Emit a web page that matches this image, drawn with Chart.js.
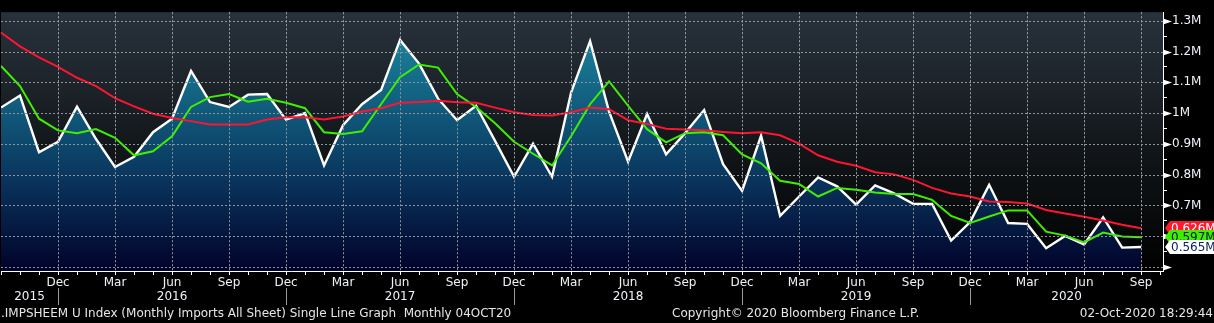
<!DOCTYPE html>
<html>
<head>
<meta charset="utf-8">
<script src="https://cdn.jsdelivr.net/npm/chart.js@4.4.0/dist/chart.umd.min.js"></script>
<style>
  html, body { margin: 0; padding: 0; background: #000; }
  #wrap { width: 1214px; height: 323px; }
</style>
</head>
<body>
<div id="wrap"><canvas id="imports" width="1214" height="323"></canvas></div>
<script>
const monthNames = ['Jan', 'Feb', 'Mar', 'Apr', 'May', 'Jun', 'Jul', 'Aug', 'Sep', 'Oct', 'Nov', 'Dec'];
const yearLabels = ['2015', '2016', '2017', '2018', '2019', '2020'];
const firstMonth = 8; // series starts Sep 2015

// monthly imports, millions (Sep 2015 .. Sep 2020)
const monthlyImports = [
  1.018, 1.057, 0.873, 0.907, 1.021, 0.916, 0.825, 0.858, 0.938, 0.982,
  1.137, 1.036, 1.020, 1.060, 1.062, 0.979, 1.000, 0.830, 0.961, 1.029,
  1.075, 1.238, 1.161, 1.047, 0.977, 1.024, 0.910, 0.793, 0.901, 0.793,
  1.067, 1.234, 1.005, 0.842, 0.997, 0.866, 0.935, 1.010, 0.834, 0.747,
  0.927, 0.666, 0.729, 0.791, 0.762, 0.703, 0.765, 0.739, 0.705, 0.705,
  0.586, 0.646, 0.767, 0.643, 0.640, 0.561, 0.601, 0.573, 0.661, 0.563,
  0.565
];
// 3 month average
const avg3m = [
  1.153, 1.088, 0.982, 0.944, 0.935, 0.948, 0.920, 0.863, 0.876, 0.925,
  1.020, 1.052, 1.062, 1.037, 1.047, 1.034, 1.016, 0.938, 0.932, 0.941,
  1.029, 1.117, 1.158, 1.148, 1.062, 1.020, 0.967, 0.907, 0.868, 0.830,
  0.925, 1.029, 1.103, 1.024, 0.948, 0.905, 0.935, 0.938, 0.928, 0.866,
  0.837, 0.780, 0.770, 0.729, 0.757, 0.751, 0.742, 0.737, 0.737, 0.718,
  0.666, 0.643, 0.664, 0.684, 0.684, 0.615, 0.602, 0.580, 0.612, 0.599,
  0.597
];
// 12 month average
const avg12m = [
  1.262, 1.217, 1.181, 1.150, 1.115, 1.088, 1.049, 1.022, 0.998, 0.984,
  0.974, 0.963, 0.963, 0.963, 0.979, 0.987, 0.987, 0.979, 0.989, 1.005,
  1.016, 1.034, 1.036, 1.040, 1.035, 1.034, 1.018, 1.003, 0.994, 0.992,
  1.003, 1.018, 1.013, 0.977, 0.965, 0.949, 0.947, 0.944, 0.939, 0.935,
  0.938, 0.928, 0.901, 0.863, 0.842, 0.829, 0.808, 0.801, 0.783, 0.757,
  0.739, 0.729, 0.713, 0.711, 0.706, 0.685, 0.674, 0.663, 0.651, 0.637,
  0.626
];

const footerLeft = '.IMPSHEEM U Index (Monthly Imports All Sheet) Single Line Graph  Monthly 04OCT20';
const footerMid = 'Copyright\u00a9 2020 Bloomberg Finance L.P.';
const footerRight = '02-Oct-2020 18:29:44';

const FONT = '"DejaVu Sans", sans-serif';
const textColor = '#eef2f8';
const gridGray = '#8e949a';
const clear = 'rgba(0,0,0,0)';

const toPoints = arr => arr.map((y, x) => ({ x, y }));
const isQuarter = i => i > 0 && i % 3 === 0;
const isMajor = v => Math.round(v * 100) % 10 === 0;

// dark panel behind the plot
const plotBackground = {
  id: 'plotBackground',
  beforeDraw(chart) {
    const { ctx, chartArea: a } = chart;
    ctx.save();
    ctx.fillStyle = '#000';
    ctx.fillRect(0, 0, chart.width, chart.height);
    const g = ctx.createLinearGradient(0, a.top, 0, a.bottom);
    g.addColorStop(0, '#28323c');
    g.addColorStop(0.55, '#111518');
    g.addColorStop(1, '#000000');
    ctx.fillStyle = g;
    ctx.fillRect(a.left, a.top, a.right - a.left, a.bottom - a.top);
    ctx.restore();
  }
};

// dotted grid on quarter months and every 0.1M, placed from the scale ticks.
// dots are plain 2x1 rects, 2px on / 2px off
function drawDots(chart) {
  const { ctx, chartArea: a, scales: { x, y } } = chart;
  ctx.save();
  ctx.fillStyle = gridGray;
  x.ticks.filter(t => isQuarter(t.value)).forEach(t => {
    const px = Math.round(x.getPixelForValue(t.value));
    for (let py = a.top; py < a.bottom; py += 4) ctx.fillRect(px, py, 1, 2);
  });
  y.ticks.filter(t => isMajor(t.value)).forEach(t => {
    const py = Math.round(y.getPixelForValue(t.value));
    for (let px = a.left; px < a.right; px += 4) ctx.fillRect(px, py, 2, 1);
  });
  ctx.restore();
}
const dottedGrid = {
  id: 'dottedGrid',
  beforeDatasetsDraw: drawDots,
  afterDatasetsDraw: drawDots
};

// arrows, year row, footer and last value tags
const decorations = {
  id: 'decorations',
  afterDraw(chart) {
    const { ctx, chartArea: a, scales: { x, y } } = chart;
    ctx.save();

    ctx.fillStyle = '#fff';
    y.ticks.filter(t => isMajor(t.value)).forEach(t => {
      const py = Math.round(y.getPixelForValue(t.value)) + 0.5;
      ctx.beginPath();
      ctx.moveTo(a.right, py - 3);
      ctx.lineTo(a.right + 9, py);
      ctx.lineTo(a.right, py + 3);
      ctx.closePath();
      ctx.fill();
    });

    // year boundaries sit on the Dec ticks
    const seps = monthlyImports.map((_, i) => i)
      .filter(i => (firstMonth + i) % 12 === 11)
      .map(i => x.getPixelForValue(i));
    ctx.fillStyle = '#9a9a9a';
    seps.forEach(px => ctx.fillRect(Math.round(px), a.bottom + 17, 1, 17));

    const edges = [a.left, ...seps, a.right];
    ctx.font = `12px ${FONT}`;
    ctx.fillStyle = textColor;
    ctx.textAlign = 'center';
    ctx.textBaseline = 'middle';
    yearLabels.forEach((yr, k) => {
      ctx.fillText(yr, (edges[k] + edges[k + 1]) / 2, a.bottom + 26);
    });

    ctx.fillStyle = '#e6e6e6';
    ctx.textAlign = 'left';
    ctx.fillText(footerLeft, 1, 314);
    ctx.fillText(footerMid, 672, 314);
    ctx.textAlign = 'right';
    ctx.fillText(footerRight, chart.width - 1, 314);

    const tags = [
      [avg12m, '#ff1a30', '#ffffff'],
      [avg3m, '#3ef000', '#0a1a3a'],
      [monthlyImports, '#ffffff', '#0c2266']
    ];
    ctx.textAlign = 'left';
    tags.forEach(([arr, bg, fg]) => {
      const v = arr[arr.length - 1];
      const py = Math.round(y.getPixelForValue(v));
      const x0 = a.right + 2;
      ctx.fillStyle = bg;
      ctx.beginPath();
      ctx.moveTo(x0, py);
      ctx.lineTo(x0 + 5, py - 7);
      ctx.lineTo(chart.width, py - 7);
      ctx.lineTo(chart.width, py + 7);
      ctx.lineTo(x0 + 5, py + 7);
      ctx.closePath();
      ctx.fill();
      ctx.fillStyle = fg;
      ctx.fillText(`${v.toFixed(3)}M`, x0 + 6, py + 0.5);
    });

    ctx.restore();
  }
};

const ctx = document.getElementById('imports');

new Chart(ctx, {
  type: 'line',
  data: {
    datasets: [
      { data: toPoints(avg12m), borderColor: '#ff1432', borderWidth: 2, fill: false },
      { data: toPoints(avg3m), borderColor: '#3ef000', borderWidth: 2, fill: false },
      {
        data: toPoints(monthlyImports),
        borderColor: '#ffffff',
        borderWidth: 2.4,
        fill: 'start',
        backgroundColor: c => {
          const a = c.chart.chartArea;
          if (!a) return clear;
          const g = c.chart.ctx.createLinearGradient(0, a.top, 0, a.bottom);
          g.addColorStop(0, '#1f8fa8');
          g.addColorStop(0.3, '#136584');
          g.addColorStop(0.62, '#0a3860');
          g.addColorStop(1, '#01022a');
          return g;
        }
      }
    ]
  },
  options: {
    responsive: false,
    devicePixelRatio: 1,
    animation: false,
    layout: { padding: 0 },
    elements: { point: { radius: 0 }, line: { tension: 0 } },
    plugins: { legend: { display: false }, tooltip: { enabled: false } },
    scales: {
      x: {
        type: 'linear',
        min: 0,
        max: 61.15,
        afterFit: s => { s.height = 52; },
        grid: { drawOnChartArea: false, color: '#ffffff', tickLength: 4 },
        border: { display: true, color: '#ffffff', width: 1 },
        ticks: {
          stepSize: 1,
          autoSkip: false,
          includeBounds: false,
          maxRotation: 0,
          padding: 1,
          color: textColor,
          font: { family: FONT, size: 12 },
          callback: v => isQuarter(v) ? monthNames[(firstMonth + v) % 12] : ''
        }
      },
      y: {
        type: 'linear',
        position: 'right',
        min: 0.487,
        max: 1.328,
        afterFit: s => { s.width = 51; },
        grid: { drawOnChartArea: false, color: '#ffffff', tickLength: 4 },
        border: { display: true, color: '#ffffff', width: 1 },
        ticks: {
          stepSize: 0.05,
          maxTicksLimit: 100,
          autoSkip: false,
          includeBounds: false,
          padding: 5,
          color: textColor,
          font: { family: FONT, size: 12 },
          callback: v => (isMajor(v) && v > 0.55) ? `${+v.toFixed(1)}M` : ''
        }
      }
    }
  },
  plugins: [plotBackground, dottedGrid, decorations]
});
</script>
</body>
</html>
